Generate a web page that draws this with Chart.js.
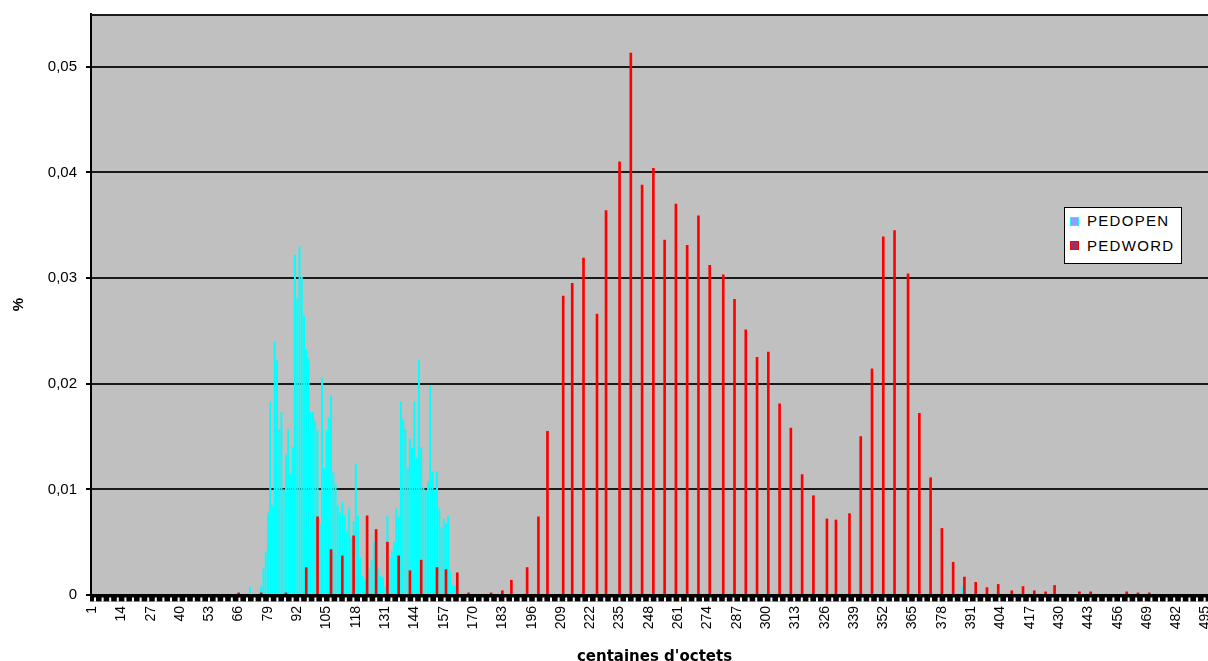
<!DOCTYPE html>
<html>
<head>
<meta charset="utf-8">
<title>PEDOPEN / PEDWORD</title>
<script src="https://cdn.jsdelivr.net/npm/chart.js@4.4.1/dist/chart.umd.min.js"></script>
<style>
  html, body { margin: 0; padding: 0; background: #fff; overflow: hidden; }
  #wrap { position: relative; width: 1208px; height: 661px; overflow: hidden; }
  #chart { position: absolute; left: 0; top: 0; }
  .legend { position: absolute; left: 1064px; top: 207px; width: 116px; height: 55px;
            border: 1px solid #000; background: #fff; }
  .legend .sw { position: absolute; width: 7px; height: 7px; border: 1px solid; }
  .legend .txt { position: absolute; left: 22px; font: 15px "Liberation Sans", Arial, sans-serif;
                 line-height: 15px; letter-spacing: 1.3px; color: #000; white-space: nowrap; }
</style>
</head>
<body>
<div id="wrap">
  <canvas id="chart" width="1224" height="661"></canvas>
  <div class="legend">
    <span class="sw" style="left:5px;top:9px;background:#9999ff;border-color:#00ffff"></span>
    <span class="txt" style="top:5px">PEDOPEN</span>
    <span class="sw" style="left:5px;top:33px;background:#993366;border-color:#ff0000"></span>
    <span class="txt" style="top:30px">PEDWORD</span>
  </div>
</div>
<script>
/* ── Données ────────────────────────────────────────── */
const N_CATEGORIES = 500;
const CATEGORIES   = Array.from({ length: N_CATEGORIES }, (_, i) => String(i + 1));

const X_TICK_LABELS = ["1","14","27","40","53","66","79","92","105","118","131","144","157",
  "170","183","196","209","222","235","248","261","274","287","300","313","326","339","352",
  "365","378","391","404","417","430","443","456","469","482","495"];
const Y_TICKS = [0, 0.01, 0.02, 0.03, 0.04, 0.05];

const PEDOPEN_AT = [71,76,77,78,79,80,81,82,83,84,85,86,87,88,89,90,91,92,93,94,95,96,97,98,99,
  100,101,102,103,104,105,106,107,108,109,110,111,112,113,114,115,116,117,118,119,120,121,122,
  123,124,125,126,127,128,129,130,131,132,133,134,135,136,137,138,139,140,141,142,143,144,145,
  146,147,148,149,150,151,152,153,154,155,156,157,158,159,160,161,162,163,387];
const PEDOPEN_VALUES = [0.0008,0.0008,0.0025,0.0041,0.0078,0.0183,0.0085,0.0240,0.0222,0.0157,
  0.0173,0.0100,0.0133,0.0157,0.0115,0.0140,0.0322,0.0281,0.0330,0.0301,0.0264,0.0232,0.0224,
  0.0173,0.0173,0.0165,0.0156,0.0067,0.0206,0.0120,0.0156,0.0168,0.0189,0.0116,0.0105,0.0085,
  0.0078,0.0088,0.0075,0.0060,0.0082,0.0054,0.0070,0.0124,0.0075,0.0035,0.0018,0.0015,0.0067,
  0.0026,0.0033,0.0050,0.0018,0.0025,0.0018,0.0017,0.0008,0.0075,0.0035,0.0042,0.0050,0.0082,
  0.0074,0.0183,0.0166,0.0157,0.0120,0.0148,0.0139,0.0183,0.0130,0.0223,0.0140,0.0102,0.0099,
  0.0108,0.0198,0.0117,0.0100,0.0117,0.0082,0.0064,0.0072,0.0068,0.0075,0.0023,0.0009,0.0009,
  0.0020,0.0008];

const PEDWORD_AT = [66,76,87,96,101,107,112,117,123,127,132,137,142,147,154,158,163,168,178,183,
  187,194,199,203,210,214,219,225,229,235,240,245,250,255,260,265,270,275,281,286,291,296,301,
  306,311,316,321,327,331,337,342,347,352,357,363,368,373,378,383,388,393,398,403,409,414,419,
  424,428,439,444,460,465,470];
const PEDWORD_VALUES = [0.0002,0.0002,0.0002,0.0026,0.0074,0.0043,0.0037,0.0056,0.0075,0.0062,
  0.0050,0.0037,0.0023,0.0033,0.0026,0.0024,0.0021,0.0002,0.0002,0.0004,0.0014,0.0026,0.0074,
  0.0155,0.0283,0.0295,0.0319,0.0266,0.0364,0.0410,0.0513,0.0388,0.0404,0.0336,0.0370,0.0331,
  0.0359,0.0312,0.0303,0.0280,0.0251,0.0225,0.0230,0.0181,0.0158,0.0114,0.0094,0.0072,0.0071,
  0.0077,0.0150,0.0214,0.0339,0.0345,0.0304,0.0172,0.0111,0.0063,0.0031,0.0017,0.0012,0.0007,
  0.0010,0.0004,0.0008,0.0004,0.0003,0.0009,0.0003,0.0003,0.0003,0.0002,0.0002];

/* ── Helpers ────────────────────────────────────────── */
function toSeries(at, values) {
  const out = new Array(N_CATEGORIES).fill(null);
  at.forEach((c, i) => { out[c - 1] = values[i]; });
  return out;
}

function formatPct(v) {
  return v === 0 ? "0" : v.toFixed(2).replace(".", ",");
}

function noScalePadding(s) {
  s.paddingLeft = 0; s.paddingRight = 0; s.paddingTop = 0; s.paddingBottom = 0;
}

const tickSet = new Set(X_TICK_LABELS);

/* ── Plugins (fond, cadre, graduations) ─────────────── */
const plotFrame = {
  id: "plotFrame",
  beforeDraw(chart) {
    const { ctx, chartArea: a } = chart;
    ctx.save();
    ctx.fillStyle = "#c0c0c0";
    ctx.fillRect(a.left, a.top, a.right - a.left, a.bottom - a.top);
    ctx.restore();
  },
  afterDraw(chart) {
    const { ctx, chartArea: a } = chart;
    ctx.save();
    // bord supérieur
    ctx.fillStyle = "#1a1a1a";
    ctx.fillRect(a.left, a.top, a.right - a.left, 2);
    // bande de graduations sous l'axe
    ctx.fillStyle = "#000";
    ctx.fillRect(a.left - 1, a.bottom - 1, a.right - a.left + 1, 7.5);
    ctx.fillStyle = "#fff";
    for (let x = a.left + 3; x < a.right; x += 7.6) {
      ctx.fillRect(x, a.bottom + 2.5, 2, 4);
    }
    ctx.restore();
  }
};

/* ── Graphique ──────────────────────────────────────── */
Chart.defaults.font.family = "'Liberation Sans', Arial, sans-serif";
Chart.defaults.color = "#000";

new Chart(document.getElementById("chart").getContext("2d"), {
  type: "bar",
  data: {
    labels: CATEGORIES,
    datasets: [
      {
        label: "PEDOPEN",
        data: toSeries(PEDOPEN_AT, PEDOPEN_VALUES),
        backgroundColor: "#00ffff",
        grouped: false,
        barPercentage: 0.88,
        categoryPercentage: 1,
        order: 1
      },
      {
        label: "PEDWORD",
        data: toSeries(PEDWORD_AT, PEDWORD_VALUES),
        backgroundColor: "#ff0000",
        grouped: false,
        barThickness: 2,
        order: 0
      }
    ]
  },
  options: {
    responsive: false,
    devicePixelRatio: 1,
    animation: false,
    layout: { padding: { top: 14, right: 6, left: 0, bottom: 0 } },
    plugins: {
      legend: { display: false },
      tooltip: { enabled: false }
    },
    scales: {
      x: {
        afterFit: s => { s.height = 66; noScalePadding(s); },
        grid: { display: true, drawOnChartArea: false, drawTicks: true, tickLength: 7,
                tickColor: "rgba(0,0,0,0)" },
        border: { display: true, color: "#000", width: 2 },
        ticks: {
          autoSkip: false,
          maxRotation: 90,
          minRotation: 90,
          padding: 4,
          color: "#000",
          font: { size: 14 },
          callback: (v, i) => tickSet.has(CATEGORIES[i]) ? CATEGORIES[i] : ""
        },
        title: {
          display: true,
          text: "centaines d'octets",
          color: "#000",
          font: { family: "'DejaVu Sans', sans-serif", size: 15, weight: "bold", lineHeight: 1 },
          padding: { top: 0, bottom: -4 }
        }
      },
      y: {
        min: 0,
        max: 0.055,
        afterBuildTicks: s => { s.ticks = Y_TICKS.map(v => ({ value: v })); },
        afterFit: s => { s.width = 91; noScalePadding(s); },
        grid: { color: "#1a1a1a", lineWidth: 2, tickLength: 5, tickColor: "#000", tickWidth: 2 },
        border: { display: true, color: "#000", width: 2 },
        ticks: { color: "#000", font: { size: 15 }, padding: 9, callback: v => formatPct(v) },
        title: {
          display: true,
          text: "%",
          color: "#000",
          font: { size: 15, weight: "bold" },
          padding: { top: 10, bottom: 0 }
        }
      }
    }
  },
  plugins: [plotFrame]
});
</script>
</body>
</html>
